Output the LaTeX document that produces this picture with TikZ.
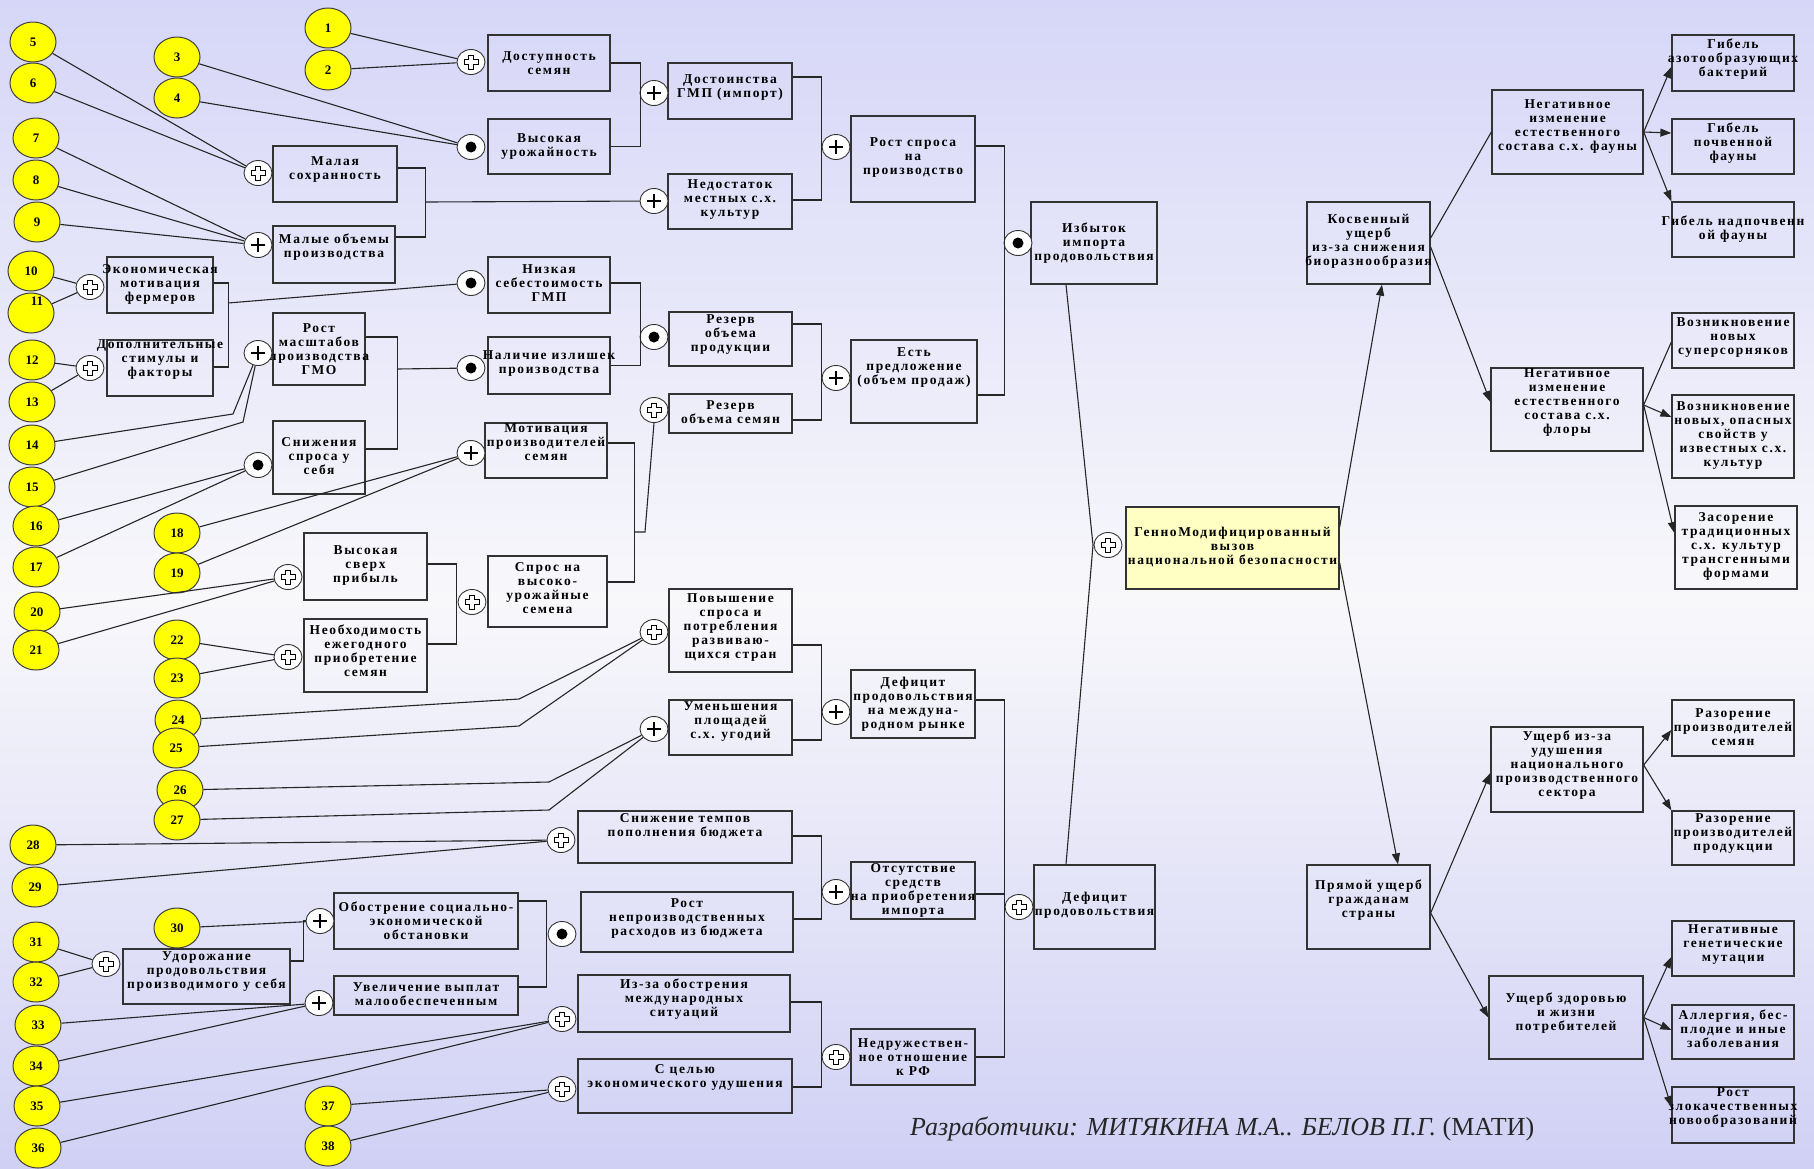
\documentclass[tikz,border=0pt]{standalone}
\usepackage{fontspec}
\setmainfont{Liberation Serif}
\newfontfamily\bxf[LetterSpace=12]{Liberation Serif}
\usetikzlibrary{shapes.geometric,arrows.meta,fit,calc}
\definecolor{bgA}{RGB}{214,214,248}
\definecolor{bgM}{RGB}{248,248,251}
\definecolor{bgB}{RGB}{208,208,245}
\definecolor{gmy}{RGB}{255,255,196}
\definecolor{numy}{RGB}{255,255,0}
\newcommand{\bx}[7]{\node[box,fit={(#2,#3) (#4,#5)}] (#1) {};
  \node[lbl] (#1t) at ([yshift=#6]#1.center) {#7};}
\begin{document}
\begin{tikzpicture}[x=1pt,y=-1pt,
  box/.style={draw=black!80,line width=1.3pt,inner sep=0pt,rectangle},
  lbl/.style={font=\bxf\bfseries\fontsize{13.5}{14}\selectfont,align=center,inner sep=0pt,text=black},
  num/.style={ellipse,draw=black!75,line width=1pt,fill=numy,minimum width=46pt,minimum height=40pt,inner sep=0pt,font=\bfseries\fontsize{13}{13}\selectfont},
  numt/.style={inner sep=0pt,font=\bfseries\fontsize{13}{13}\selectfont},
  conn/.style={draw=black!85,line width=1.1pt},
  arr/.style={conn,-{Triangle[length=11pt,width=8pt]}},
  gate/.style={ellipse,draw=black!80,fill=white,line width=0.9pt,minimum width=28pt,minimum height=25pt,inner sep=0pt},
  gp/.style={gate,path picture={\draw[black,line width=2.2pt,shift={(path picture bounding box.center)}] (-7,0)--(7,0) (0,-7)--(0,7);}},
  gw/.style={gate,path picture={\draw[black,line width=0.9pt,shift={(path picture bounding box.center)}] (-7,-2.5)--(-2.5,-2.5)--(-2.5,-7)--(2.5,-7)--(2.5,-2.5)--(7,-2.5)--(7,2.5)--(2.5,2.5)--(2.5,7)--(-2.5,7)--(-2.5,2.5)--(-7,2.5)--cycle;}},
  gd/.style={gate,path picture={\fill[black,shift={(path picture bounding box.center)}] (0,0) circle (5.5pt);}},
  cred/.style={inner sep=0pt,font=\itshape\fontsize{26}{26}\selectfont,text=black!85}
]
\shade[top color=bgA,bottom color=bgM] (0,0) rectangle (1814,600);
\shade[top color=bgM,bottom color=bgB] (0,599) rectangle (1814,1168);
\useasboundingbox (0,0) rectangle (1814,1168);

% ---------- boxes ----------
\bx{dost}{488}{35}{610}{91}{0}{Доступность\\семян}
\bx{vys}{488}{119}{610}{174}{0}{Высокая\\урожайность}
\bx{niz}{488}{257}{610}{313}{2}{Низкая\\себестоимость\\ГМП}
\bx{nal}{488}{337}{610}{394}{2}{Наличие излишек\\производства}
\bx{motiv}{485}{423}{607}{478}{8}{Мотивация\\производителей\\семян}
\bx{spros}{488}{556}{607}{627}{3}{Спрос на\\высоко-\\урожайные\\семена}
\bx{dostoinstva}{668}{63}{792}{119}{3}{Достоинства\\ГМП (импорт)}
\bx{nedost}{668}{174}{792}{229}{2}{Недостаток\\местных с.х.\\культур}
\bx{rezprod}{669}{312}{792}{366}{4}{Резерв\\объема\\продукции}
\bx{rezsem}{669}{394}{792}{433}{1}{Резерв\\объема семян}
\bx{povysh}{669}{589}{792}{672}{3}{Повышение\\спроса и\\потребления\\развиваю-\\щихся стран}
\bx{umen}{669}{700}{792}{755}{6}{Уменьшения\\площадей\\с.х. угодий}
\bx{snizh}{578}{811}{792}{863}{11}{Снижение темпов\\пополнения бюджета}
\bx{rostnep}{581}{892}{793}{952}{4}{Рост\\непроизводственных\\расходов из бюджета}
\bx{izza}{578}{975}{790}{1032}{4}{Из-за обострения\\международных\\ситуаций}
\bx{scel}{578}{1059}{792}{1113}{9}{С целью\\экономического удушения}
\bx{rostspr}{851}{116}{975}{202}{1}{Рост спроса\\на\\производство}
\bx{est}{851}{340}{977}{423}{14}{Есть\\предложение\\(объем продаж)}
\bx{defmr}{851}{670}{975}{738}{0}{Дефицит\\продовольствия\\на междуна-\\родном рынке}
\bx{ots}{851}{862}{975}{919}{0}{Отсутствие\\средств\\на приобретения\\импорта}
\bx{nedr}{851}{1029}{975}{1085}{0}{Недружествен-\\ное отношение\\к РФ}
\bx{izb}{1031}{202}{1157}{284}{0}{Избыток\\импорта\\продовольствия}
\bx{defp}{1034}{865}{1155}{949}{2}{Дефицит\\продовольствия}
\node[box,fill=gmy,fit={(1126,507) (1339,589)}] (gm) {};
\node[lbl] (gmt) at ([yshift=1]gm.center) {ГенноМодифицированный\\вызов\\национальной безопасности};
\bx{kosv}{1307}{202}{1430}{284}{2}{Косвенный\\ущерб\\из-за снижения\\биоразнообразия}
\bx{pryam}{1307}{865}{1430}{949}{7}{Прямой ущерб\\гражданам\\страны}
\bx{fauna}{1492}{90}{1643}{174}{5}{Негативное\\изменение\\естественного\\состава с.х. фауны}
\bx{flora}{1491}{368}{1643}{451}{7}{Негативное\\изменение\\естественного\\состава с.х.\\флоры}
\bx{udush}{1491}{727}{1643}{812}{4}{Ущерб из-за\\удушения\\национального\\производственного\\сектора}
\bx{zdor}{1489}{976}{1643}{1059}{4}{Ущерб здоровью\\и жизни\\потребителей}
\bx{ga}{1672}{35}{1794}{91}{4}{Гибель\\азотообразующих\\бактерий}
\bx{gb}{1672}{119}{1794}{174}{3}{Гибель\\почвенной\\фауны}
\bx{gc}{1672}{202}{1794}{257}{0}{Гибель надпочвенн\\ой фауны}
\bx{va}{1672}{313}{1794}{368}{3}{Возникновение\\новых\\суперсорняков}
\bx{vb}{1672}{395}{1794}{478}{1}{Возникновение\\новых, опасных\\свойств у\\известных с.х.\\культур}
\bx{zas}{1675}{506}{1797}{589}{1}{Засорение\\традиционных\\с.х. культур\\трансгенными\\формами}
\bx{ra}{1672}{700}{1794}{756}{1}{Разорение\\производителей\\семян}
\bx{rb}{1672}{811}{1794}{865}{4}{Разорение\\производителей\\продукции}
\bx{na}{1672}{921}{1794}{976}{4}{Негативные\\генетические\\мутации}
\bx{al}{1672}{1005}{1794}{1059}{3}{Аллергия, бес-\\плодие и иные\\заболевания}
\bx{onk}{1672}{1087}{1794}{1143}{8}{Рост\\злокачественных\\новообразований}
\bx{mal}{273}{146}{397}{202}{4}{Малая\\сохранность}
\bx{malye}{273}{226}{395}{283}{7}{Малые объемы\\производства}
\bx{ekon}{107}{257}{213}{313}{1}{Экономическая\\мотивация\\фермеров}
\bx{dop}{107}{340}{213}{396}{8}{Дополнительные\\стимулы и\\факторы}
\bx{rostm}{273}{313}{365}{385}{0}{Рост\\масштабов\\производства\\ГМО}
\bx{snizhspr}{273}{421}{365}{494}{1}{Снижения\\спроса у\\себя}
\bx{vyssverh}{304}{533}{427}{600}{1}{Высокая\\сверх\\прибыль}
\bx{neobh}{304}{619}{427}{692}{5}{Необходимость\\ежегодного\\приобретение\\семян}
\bx{obostr}{334}{893}{518}{949}{0}{Обострение социально-\\экономической\\обстановки}
\bx{uvel}{334}{976}{518}{1015}{1}{Увеличение выплат\\малообеспеченным}
\bx{udor}{123}{949}{290}{1004}{5}{Удорожание\\продовольствия\\производимого у себя}

% ---------- gates ----------
\node[gw] (gA1) at (471,62) {};
\node[gd] (gA2) at (471,147) {};
\node[gd] (gA3) at (471,283) {};
\node[gd] (gA4) at (471,368) {};
\node[gp] (gA5) at (471,453) {};
\node[gw] (gA6) at (472,602) {};
\node[gp] (gB1) at (654,93) {};
\node[gp] (gB2) at (654,201) {};
\node[gd] (gB3) at (654,337) {};
\node[gw] (gB4) at (654,410) {};
\node[gw] (gB5) at (654,632) {};
\node[gp] (gB6) at (654,729) {};
\node[gw] (gB7) at (561,840) {};
\node[gd] (gB8) at (562,934) {};
\node[gw] (gB9) at (562,1019) {};
\node[gw] (gB10) at (562,1089) {};
\node[gp] (gC1) at (836,147) {};
\node[gp] (gC2) at (836,378) {};
\node[gp] (gC3) at (836,712) {};
\node[gp] (gC4) at (836,892) {};
\node[gw] (gC5) at (836,1057) {};
\node[gd] (gD1) at (1018,243) {};
\node[gw] (gD2) at (1019,907) {};
\node[gw] (gD3) at (1108,545) {};
\node[gw] (gL1) at (258,173) {};
\node[gp] (gL2) at (258,245) {};
\node[gw] (gL3) at (90,287) {};
\node[gw] (gL4) at (90,368) {};
\node[gp] (gL5) at (258,353) {};
\node[gd] (gL6) at (258,465) {};
\node[gw] (gL7) at (288,577) {};
\node[gw] (gL8) at (288,657) {};
\node[gp] (gL9) at (320,921) {};
\node[gp] (gL10) at (319,1003) {};
\node[gw] (gL11) at (106,964) {};

% ---------- numbered causes ----------
\node[num] (n1) at (328,28) {1};
\node[num] (n2) at (328,70) {2};
\node[num] (n3) at (177,57) {3};
\node[num] (n4) at (177,98) {4};
\node[num] (n5) at (33,42) {5};
\node[num] (n6) at (33,83) {6};
\node[num] (n7) at (36,138) {7};
\node[num] (n8) at (36,180) {8};
\node[num] (n9) at (37,222) {9};
\node[num] (n10) at (31,271) {10};
\node[num] (n11) at (31,313) {};
\node[numt] (n11t) at (37,301) {11};
\node[num] (n12) at (32,360) {12};
\node[num] (n13) at (32,402) {13};
\node[num] (n14) at (32,445) {14};
\node[num] (n15) at (32,487) {15};
\node[num] (n16) at (36,526) {16};
\node[num] (n17) at (36,567) {17};
\node[num] (n18) at (177,533) {18};
\node[num] (n19) at (177,573) {19};
\node[num] (n20) at (37,612) {20};
\node[num] (n21) at (36,650) {21};
\node[num] (n22) at (177,640) {22};
\node[num] (n23) at (177,678) {23};
\node[num] (n24) at (178,720) {24};
\node[num] (n25) at (176,748) {25};
\node[num] (n26) at (180,790) {26};
\node[num] (n27) at (177,820) {27};
\node[num] (n28) at (33,845) {28};
\node[num] (n29) at (35,887) {29};
\node[num] (n30) at (177,928) {30};
\node[num] (n31) at (36,942) {31};
\node[num] (n32) at (36,982) {32};
\node[num] (n33) at (38,1025) {33};
\node[num] (n34) at (36,1066) {34};
\node[num] (n35) at (37,1106) {35};
\node[num] (n36) at (38,1148) {36};
\node[num] (n37) at (328,1106) {37};
\node[num] (n38) at (328,1146) {38};

% ---------- joints ----------
\coordinate (jm) at (425,202);
\coordinate (je) at (228,303);
\coordinate (jr) at (397,369);
\coordinate (js) at (634,532);
\coordinate (jg) at (1093,545);
\coordinate (b14) at (233,414);
\coordinate (b15) at (243,422);
\coordinate (b24) at (519,699);
\coordinate (b25) at (519,726);
\coordinate (b26) at (549,782);
\coordinate (b27) at (549,810);

% ---------- cause lines ----------
\draw[conn] (n1) -- (gA1);
\draw[conn] (n2) -- (gA1);
\draw[conn] (n3) -- (gA2);
\draw[conn] (n4) -- (gA2);
\draw[conn] (n5) -- (gL1);
\draw[conn] (n6) -- (gL1);
\draw[conn] (n7) -- (gL2);
\draw[conn] (n8) -- (gL2);
\draw[conn] (n9) -- (gL2);
\draw[conn] (n10) -- (gL3);
\draw[conn] (n11) -- (gL3);
\draw[conn] (n12) -- (gL4);
\draw[conn] (n13) -- (gL4);
\draw[conn] (n14) -- (b14) -- (gL5);
\draw[conn] (n15) -- (b15) -- (gL5);
\draw[conn] (n16) -- (gL6);
\draw[conn] (n17) -- (gL6);
\draw[conn] (n18) -- (gA5);
\draw[conn] (n19) -- (gA5);
\draw[conn] (n20) -- (gL7);
\draw[conn] (n21) -- (gL7);
\draw[conn] (n22) -- (gL8);
\draw[conn] (n23) -- (gL8);
\draw[conn] (n24) -- (b24) -- (gB5);
\draw[conn] (n25) -- (b25) -- (gB5);
\draw[conn] (n26) -- (b26) -- (gB6);
\draw[conn] (n27) -- (b27) -- (gB6);
\draw[conn] (n28) -- (gB7);
\draw[conn] (n29) -- (gB7);
\draw[conn] (n30) -- (gL9);
\draw[conn] (n31) -- (gL11);
\draw[conn] (n32) -- (gL11);
\draw[conn] (n33) -- (gL10);
\draw[conn] (n34) -- (gL10);
\draw[conn] (n35) -- (gB9);
\draw[conn] (n36) -- (gB9);
\draw[conn] (n37) -- (gB10);
\draw[conn] (n38) -- (gB10);

% ---------- brackets ----------
\draw[conn] (dost.east) -- ++(30,0) |- (vys.east);
\draw[conn] ([yshift=2]niz.east) -- ++(30,0) |- (nal.east);
\draw[conn] ([yshift=7.5]motiv.east) -- ++(27,0) |- ([yshift=9.5]spros.east);
\draw[conn] (js) -- ++(11,0) -- (gB4.south);
\draw[conn] ([yshift=14]dostoinstva.east) -- ++(29,0) |- ([yshift=1.5]nedost.east);
\draw[conn] ([yshift=15]rezprod.east) -- ++(29,0) |- ([yshift=-6.5]rezsem.east);
\draw[conn] ([yshift=-14.5]povysh.east) -- ++(29,0) |- ([yshift=-12.5]umen.east);
\draw[conn] ([yshift=1]snizh.east) -- ++(29,0) |- ([yshift=3]rostnep.east);
\draw[conn] ([yshift=1.5]izza.east) -- ++(31,0) |- ([yshift=-1]scel.east);
\draw[conn] ([yshift=13]rostspr.east) -- ++(29,0) |- ([yshift=-13.5]est.east);
\draw[conn] ([yshift=4]defmr.east) -- ++(29,0) |- (nedr.east);
\draw[conn] ([yshift=-3.5]ots.east) -- ++(29,0);
\draw[conn] ([yshift=6]mal.east) -- ++(28,0) |- ([yshift=17.5]malye.east);
\draw[conn] (jm) -- (gB2);
\draw[conn] ([yshift=2]ekon.east) -- ++(15,0) |- ([yshift=1]dop.east);
\draw[conn] (je) -- (gA3);
\draw[conn] ([yshift=12]rostm.east) -- ++(32,0) |- ([yshift=8.5]snizhspr.east);
\draw[conn] (jr) -- (gA4);
\draw[conn] ([yshift=2.5]vyssverh.east) -- ++(29,0) |- ([yshift=11.5]neobh.east);
\draw[conn] ([yshift=20]obostr.east) -- ++(28,0) |- ([yshift=8.5]uvel.east);
\draw[conn] ([yshift=15.5]udor.east) -- ++(13,0) |- (gL9.west);
\draw[conn] ([xshift=-28]izb.south) -- (jg) -- ([xshift=-28.5]defp.north);

% ---------- arrows to the right ----------
\draw[arr] ([yshift=21]gm.east) -- ([xshift=13.5]kosv.south);
\draw[arr] ([yshift=-15]gm.east) -- ([xshift=29.5]pryam.north);
\draw[conn] ([yshift=5]kosv.east) -- (fauna.west);
\draw[arr] ([yshift=-4]kosv.east) -- ([yshift=7.5]flora.west);
\draw[arr] ([yshift=-6]pryam.east) -- ([yshift=-3.5]udush.west);
\draw[arr] ([yshift=-6]pryam.east) -- (zdor.west);
\draw[arr] (fauna.east) -- ([yshift=-4]ga.west);
\draw[arr] (fauna.east) -- ([yshift=13.5]gb.west);
\draw[arr] (fauna.east) -- (gc.north west);
\draw[conn] ([yshift=4.5]flora.east) -- ([yshift=-1.5]va.west);
\draw[arr] ([yshift=4.5]flora.east) -- ([yshift=19.5]vb.west);
\draw[arr] ([yshift=4.5]flora.east) -- ([yshift=14.5]zas.west);
\draw[arr] ([yshift=4.5]udush.east) -- ([yshift=-2]ra.west);
\draw[arr] ([yshift=4.5]udush.east) -- (rb.north west);
\draw[arr] (zdor.east) -- ([yshift=-8.5]na.west);
\draw[arr] (zdor.east) -- ([yshift=2]al.west);
\draw[arr] (zdor.east) -- ([yshift=8]onk.west);

% ---------- credits ----------
\node[cred,anchor=base west] (credits) at (910,1135) {Разработчики: МИТЯКИНА М.А.. БЕЛОВ П.Г. {\upshape (МАТИ)}};
\end{tikzpicture}
\end{document}
